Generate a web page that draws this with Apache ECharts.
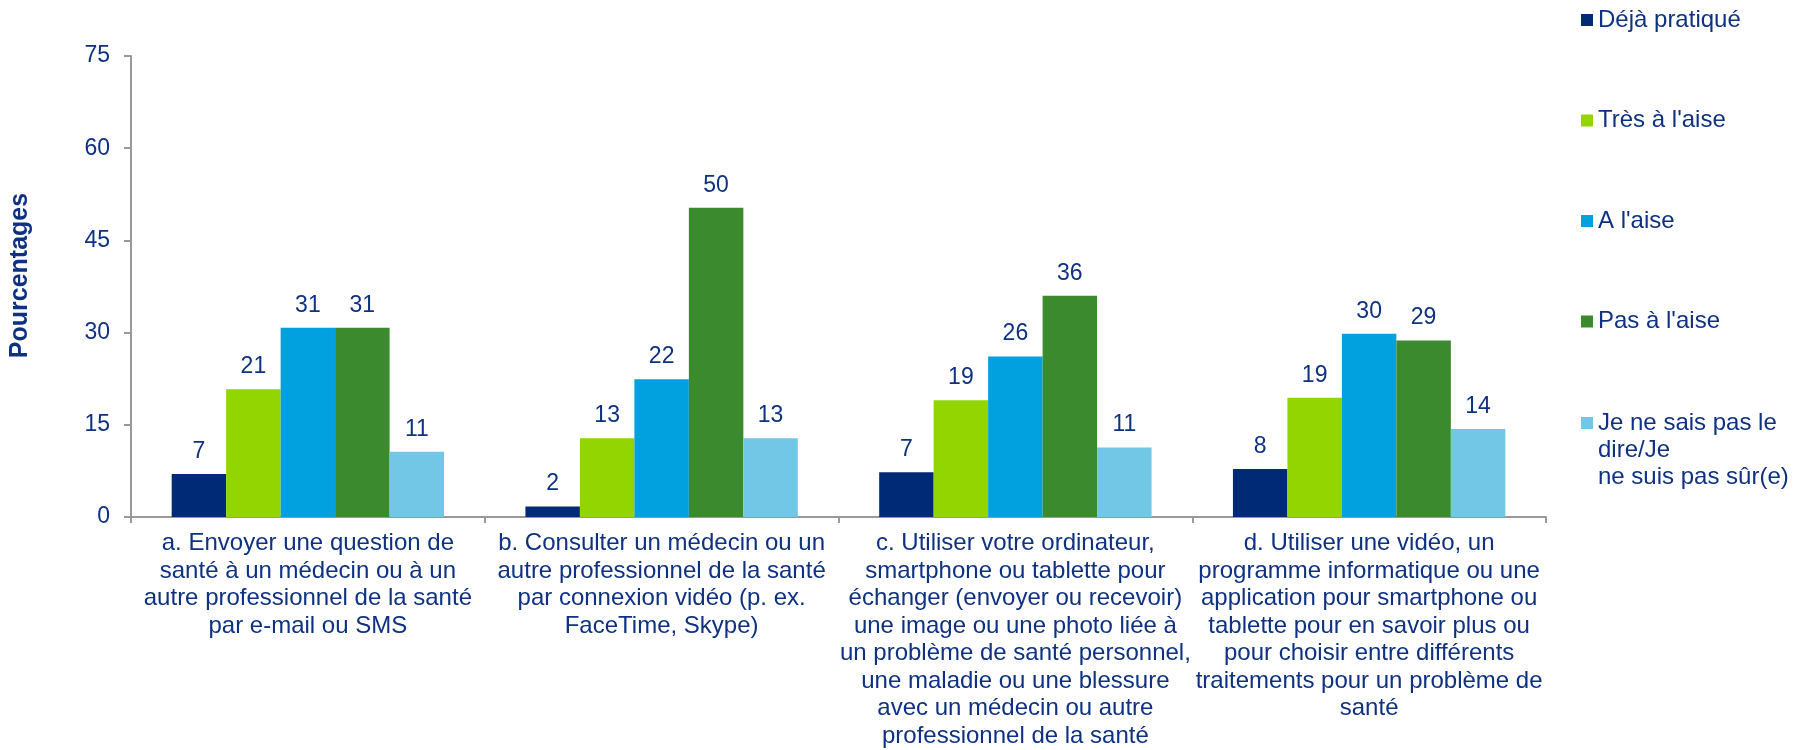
<!DOCTYPE html>
<html>
<head>
<meta charset="utf-8">
<script src="https://cdn.jsdelivr.net/npm/echarts@6/dist/echarts.min.js"></script>
<style>
html,body{margin:0;padding:0;background:#fff;}
#chart{width:1801px;height:750px;}
</style>
</head>
<body>
<div id="chart"></div>
<script>
const categories = [
  "a. Envoyer une question de\nsanté à un médecin ou à un\nautre professionnel de la santé\npar e-mail ou SMS",
  "b. Consulter un médecin ou un\nautre professionnel de la santé\npar connexion vidéo (p. ex.\nFaceTime, Skype)",
  "c. Utiliser votre ordinateur,\nsmartphone ou tablette pour\néchanger (envoyer ou recevoir)\nune image ou une photo liée à\nun problème de santé personnel,\nune maladie ou une blessure\navec un médecin ou autre\nprofessionnel de la santé",
  "d. Utiliser une vidéo, un\nprogramme informatique ou une\napplication pour smartphone ou\ntablette pour en savoir plus ou\npour choisir entre différents\ntraitements pour un problème de\nsanté"
];
const seriesNames = ["Déjà pratiqué", "Très à l'aise", "A l'aise", "Pas à l'aise", "Je ne sais pas le\ndire/Je\nne suis pas sûr(e)"];
const dejaPratique = [7.0, 1.7, 7.3, 7.8];
const tresALaise = [20.8, 12.8, 19.0, 19.4];
const aLaise = [30.8, 22.4, 26.1, 29.8];
const pasALaise = [30.8, 50.3, 36.0, 28.7];
const neSaisPas = [10.6, 12.8, 11.3, 14.3];
const yTicks = [0, 15, 30, 45, 60, 75];

const colors = ["#002A76", "#93D500", "#00A1DE", "#3C8A2E", "#72C7E6"];
const textColor = "#0E3182";
const font = "'Liberation Sans', Arial, sans-serif";
const allValues = [dejaPratique, tresALaise, aLaise, pasALaise, neSaisPas];

const chart = echarts.init(document.getElementById('chart'), null, {renderer: 'canvas'});
const option = {
  backgroundColor: '#ffffff',
  animation: false,
  textStyle: {fontFamily: font},
  grid: {left: 127, right: 255, top: 56, bottom: 232, containLabel: false},
  legend: [
    {
      orient: 'vertical', left: 1581, top: 6.5, padding: 0,
      itemWidth: 12, itemHeight: 12, itemGap: 73.5,
      icon: 'rect',
      textStyle: {color: textColor, fontSize: 24, fontFamily: font, lineHeight: 27},
      data: seriesNames.slice(0, 4)
    },
    {
      orient: 'vertical', left: 1581, top: 355.5, padding: 0,
      itemWidth: 12, itemHeight: 12,
      icon: 'rect',
      textStyle: {color: textColor, fontSize: 24, fontFamily: font, lineHeight: 27},
      formatter: name => '\n\n' + name,
      data: seriesNames.slice(4)
    }
  ],
  xAxis: {
    type: 'category',
    data: categories,
    axisLine: {lineStyle: {color: '#999999', width: 2}},
    axisTick: {show: true, length: 6, lineStyle: {color: '#999999', width: 2}},
    axisLabel: {interval: 0, color: textColor, fontSize: 24, lineHeight: 27.5, margin: 13, fontFamily: font, align: 'center'}
  },
  yAxis: {
    type: 'value', min: yTicks[0], max: yTicks[yTicks.length - 1], interval: 15,
    name: 'Pourcentages', nameLocation: 'middle', nameRotate: 90, nameGap: 98,
    nameTextStyle: {color: textColor, fontSize: 25, fontWeight: 'bold', fontFamily: font, padding: [0, 0, 0, 22]},
    axisLine: {show: true, lineStyle: {color: '#999999', width: 2}},
    axisTick: {show: true, length: 7, lineStyle: {color: '#999999', width: 2}},
    splitLine: {show: false},
    axisLabel: {color: textColor, fontSize: 23, margin: 21, fontFamily: font}
  },
  series: allValues.map((vals, i) => ({
    name: seriesNames[i],
    type: 'bar',
    data: vals,
    barGap: '0%',
    barCategoryGap: '23%',
    itemStyle: {color: colors[i]},
    label: {
      show: true, position: 'top', distance: 11,
      color: textColor, fontSize: 23, fontFamily: font,
      formatter: p => Math.round(p.value)
    }
  }))
};
chart.setOption(option);
</script>
</body>
</html>
